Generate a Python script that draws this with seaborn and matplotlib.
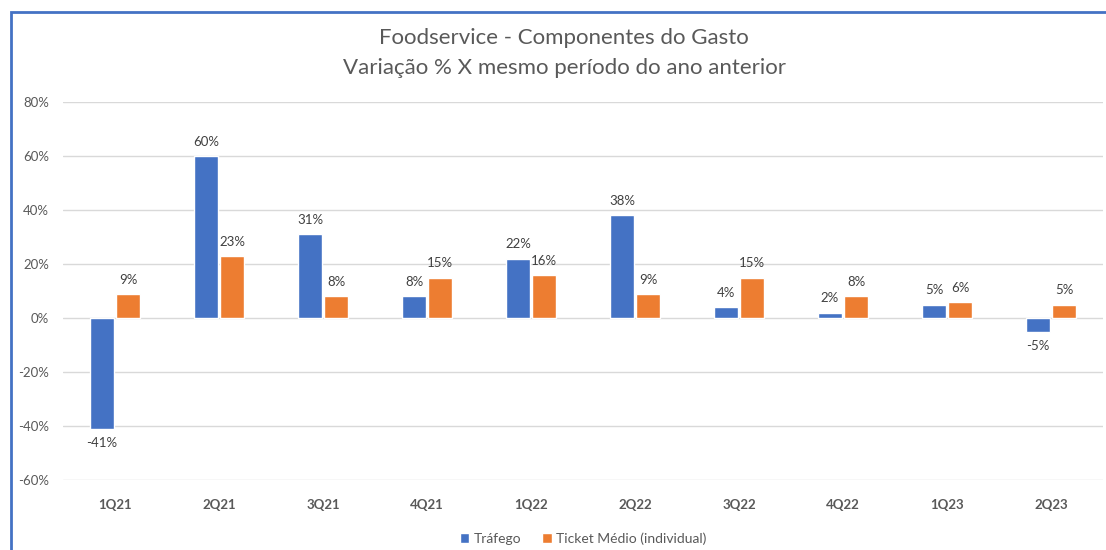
import numpy as np
import pandas as pd
import seaborn as sns
import matplotlib.pyplot as plt
from matplotlib.patches import Rectangle
from matplotlib.ticker import FuncFormatter

# data
trimestres = ['1Q21', '2Q21', '3Q21', '4Q21', '1Q22', '2Q22', '3Q22', '4Q22', '1Q23', '2Q23']
trafego = [-41, 60, 31, 8, 22, 38, 4, 2, 5, -5]
ticket_medio = [9, 23, 8, 15, 16, 9, 15, 8, 6, 5]
series = ['Tráfego', 'Ticket Médio (individual)']

df = pd.DataFrame({
    'trimestre': trimestres * 2,
    'serie': [series[0]] * len(trimestres) + [series[1]] * len(trimestres),
    'valor': trafego + ticket_medio,
})

sns.set_theme(style='white')
plt.rcParams['font.family'] = ['Lato', 'DejaVu Sans']

fig = plt.figure(figsize=(11.06, 5.5), dpi=100, facecolor='white')
ax = fig.add_axes([63 / 1106, 1 - 480 / 550, (1103 - 63) / 1106, (480 - 102) / 550])

sns.barplot(data=df, x='trimestre', y='valor', hue='serie', order=trimestres,
            hue_order=series, palette=['#4472C4', '#ED7D31'], saturation=1,
            width=0.5, gap=0.1, ax=ax, legend=True)

# data labels
for cont in ax.containers:
    for bar in cont:
        h = bar.get_height()
        x = bar.get_x() + bar.get_width() / 2
        if h >= 0:
            ax.text(x, h + 3, f'{h:.0f}%', ha='center', va='bottom', fontsize=9.5, color='#404040')
        else:
            ax.text(x, h - 3, f'{h:.0f}%', ha='center', va='top', fontsize=9.5, color='#404040')

ax.set_ylim(-60, 80)
ax.set_xlim(-0.5, len(trimestres) - 0.5)
ax.set_yticks(np.arange(-60, 81, 20))
ax.yaxis.set_major_formatter(FuncFormatter(lambda v, p: f'{v:.0f}%'))
ax.grid(axis='y', color='#D9D9D9', linewidth=1)
ax.set_axisbelow(True)
for s in ax.spines.values():
    s.set_visible(False)
ax.set_xlabel('')
ax.set_ylabel('')
ax.tick_params(axis='y', labelsize=9.5, labelcolor='#595959', length=0, pad=10)
ax.tick_params(axis='x', labelsize=9.5, labelcolor='#595959', length=0, pad=14)
for lbl in ax.get_xticklabels():
    lbl.set_fontweight('bold')

ax.legend(loc='upper center', bbox_to_anchor=(0.5, -0.105), ncol=2, frameon=False,
          fontsize=10, labelcolor='#595959', handlelength=0.7, handleheight=0.7,
          handletextpad=0.3, columnspacing=1.5)

fig.text(0.51, 1 - 38 / 550, 'Foodservice - Componentes do Gasto', ha='center', va='center',
         fontsize=16, color='#595959')
fig.text(0.51, 1 - 68 / 550, 'Variação % X mesmo período do ano anterior', ha='center', va='center',
         fontsize=16, color='#595959')

# chart border (cropped on the right and bottom)
fig.patches.append(Rectangle((11 / 1106, -0.1), 1.2, 1 - 12 / 550 + 0.1, transform=fig.transFigure,
                             fill=False, edgecolor='#4472C4', linewidth=2))

fig.savefig('out.png', dpi=100, facecolor='white')
